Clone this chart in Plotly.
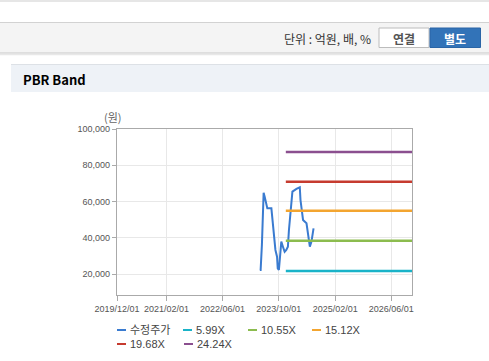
import plotly.graph_objects as go

# ---- data ----
price_dates = ["2023-04-20", "2023-04-27", "2023-05-08", "2023-05-17", "2023-05-23", "2023-06-01",
               "2023-06-15", "2023-06-24", "2023-07-29", "2023-08-03", "2023-08-12", "2023-09-02",
               "2023-09-16", "2023-09-22", "2023-10-02", "2023-10-09", "2023-10-23", "2023-11-06",
               "2023-11-21", "2023-12-05", "2023-12-19", "2023-12-28", "2024-01-09", "2024-01-18",
               "2024-01-27", "2024-03-02", "2024-03-31", "2024-04-06", "2024-04-28", "2024-05-28",
               "2024-06-11", "2024-06-26", "2024-07-10", "2024-07-28"]
price_values = [22400, 22400, 36200, 50800, 64900, 62700,
                58200, 56300, 56300, 53500, 46200, 33400,
                29700, 23300, 22400, 28000, 38000, 35200,
                32400, 33400, 35200, 44400, 53500, 60900,
                65500, 67000, 67900, 60900, 49900, 48100,
                42600, 35200, 38000, 45300]

band_names = ["5.99X", "10.55X", "15.12X", "19.68X", "24.24X"]
band_values = [21800, 38500, 55000, 71000, 87300]
band_dates = ["2023-12-01", "2026-11-27"]

price_name = "수정주가"
x_tickvals = ["2019-12-01", "2021-02-01", "2022-06-01", "2023-10-01", "2025-02-01", "2026-06-01"]
x_ticktext = ["2019/12/01", "2021/02/01", "2022/06/01", "2023/10/01", "2025/02/01", "2026/06/01"]
y_tickvals = [20000, 40000, 60000, 80000, 100000]

# ---- styles ----
price_color = "#3a7bd0"
band_colors = ["#1ab3c8", "#8cbc4f", "#f3a530", "#c63b2f", "#8b4f8f"]

W_PX, H_PX = 489, 361
L, R, T, B = 117, 412, 129, 295


def px(x):
    return (x - L) / (R - L)


def py(y):
    return (B - y) / (B - T)


fig = go.Figure()
fig.add_trace(go.Scatter(x=price_dates, y=price_values, mode="lines", name=price_name,
                         line=dict(color=price_color, width=2), showlegend=False))
for name, val, col in zip(band_names, band_values, band_colors):
    fig.add_trace(go.Scatter(x=band_dates, y=[val, val], mode="lines", name=name,
                             line=dict(color=col, width=2.5), showlegend=False))

shapes = []
annotations = []

# top border line
shapes.append(dict(type="line", xref="paper", yref="paper", x0=px(0), x1=px(489), y0=py(1), y1=py(1),
                   line=dict(color="#dedede", width=1.5), layer="below"))
# header bar
shapes.append(dict(type="rect", xref="paper", yref="paper", x0=px(0), x1=px(489), y0=py(22.5), y1=py(52.5),
                   fillcolor="#f4f4f4", line=dict(width=0), layer="below"))
shapes.append(dict(type="line", xref="paper", yref="paper", x0=px(0), x1=px(489), y0=py(22.5), y1=py(22.5),
                   line=dict(color="#d2d2d2", width=1), layer="below"))
shapes.append(dict(type="line", xref="paper", yref="paper", x0=px(0), x1=px(489), y0=py(53), y1=py(53),
                   line=dict(color="#c4c4c4", width=1.2), layer="below"))
shapes.append(dict(type="line", xref="paper", yref="paper", x0=px(0), x1=px(489), y0=py(54.5), y1=py(54.5),
                   line=dict(color="#e8e8e8", width=1.5), layer="below"))
# buttons
shapes.append(dict(type="rect", xref="paper", yref="paper", x0=px(379), x1=px(429), y0=py(47.5), y1=py(28),
                   fillcolor="#ffffff", line=dict(color="#bcbcbc", width=1), layer="below"))
shapes.append(dict(type="rect", xref="paper", yref="paper", x0=px(430), x1=px(480.5), y0=py(47.5), y1=py(28),
                   fillcolor="#3273b8", line=dict(color="#2a65a6", width=1), layer="below"))
# title bar
shapes.append(dict(type="rect", xref="paper", yref="paper", x0=px(11), x1=px(489), y0=py(92), y1=py(64.5),
                   fillcolor="#eef2f7", line=dict(width=0), layer="below"))
shapes.append(dict(type="line", xref="paper", yref="paper", x0=px(11), x1=px(489), y0=py(64.5), y1=py(64.5),
                   line=dict(color="#dde1e6", width=1), layer="below"))

annotations.append(dict(text="단위 : 억원, 배, %", xref="paper", yref="paper", x=px(373), y=py(38.5),
                        xanchor="right", yanchor="middle", showarrow=False,
                        font=dict(size=12, color="#333333", family="Noto Sans CJK KR")))
annotations.append(dict(text="<b>연결</b>", xref="paper", yref="paper", x=px(404), y=py(38),
                        xanchor="center", yanchor="middle", showarrow=False,
                        font=dict(size=12, color="#555555", family="Noto Sans CJK KR")))
annotations.append(dict(text="<b>별도</b>", xref="paper", yref="paper", x=px(455), y=py(38),
                        xanchor="center", yanchor="middle", showarrow=False,
                        font=dict(size=12, color="#ffffff", family="Noto Sans CJK KR")))
annotations.append(dict(text="<b>PBR Band</b>", xref="paper", yref="paper", x=px(21), y=py(79),
                        xanchor="left", yanchor="middle", showarrow=False,
                        font=dict(size=13, color="#000000", family="Noto Sans CJK KR")))
annotations.append(dict(text="(원)", xref="paper", yref="paper", x=px(113), y=py(117),
                        xanchor="center", yanchor="middle", showarrow=False,
                        font=dict(size=11, color="#666666", family="Noto Sans CJK KR")))

# custom legend
legend_items = [(price_name, price_color)] + list(zip(band_names, band_colors))
legend_pos = [(117, 330), (183, 330), (248, 330), (312, 330), (117, 344), (184, 344)]
for (name, col), (lx, ly) in zip(legend_items, legend_pos):
    shapes.append(dict(type="line", xref="paper", yref="paper", x0=px(lx), x1=px(lx + 9),
                       y0=py(ly), y1=py(ly), line=dict(color=col, width=2)))
    annotations.append(dict(text=name, xref="paper", yref="paper", x=px(lx + 11), y=py(ly),
                            xanchor="left", yanchor="middle", showarrow=False,
                            font=dict(size=11, color="#444444", family="Liberation Sans, Noto Sans CJK KR")))

fig.update_layout(
    width=W_PX, height=H_PX,
    margin=dict(l=L, r=W_PX - R, t=T, b=H_PX - B, pad=0),
    paper_bgcolor="#ffffff", plot_bgcolor="#ffffff",
    showlegend=False,
    shapes=shapes, annotations=annotations,
    font=dict(family="Liberation Sans, Arial", size=9, color="#555555"),
)
fig.update_xaxes(type="date", range=["2019-12-01", "2026-11-27"], tickvals=x_tickvals, ticktext=x_ticktext,
                 showgrid=True, gridcolor="#e8e8e8", gridwidth=1,
                 showline=True, linecolor="#aaaaaa", linewidth=1.2, mirror=True,
                 ticks="outside", ticklen=5, tickcolor="#aaaaaa",
                 tickfont=dict(size=9, color="#555555", family="Liberation Sans, Arial"), zeroline=False)
fig.update_yaxes(range=[8600, 100000], tickvals=y_tickvals, tickformat=",",
                 showgrid=True, gridcolor="#e8e8e8", gridwidth=1,
                 showline=True, linecolor="#aaaaaa", linewidth=1.2, mirror=True,
                 ticks="outside", ticklen=4, tickcolor="#aaaaaa",
                 tickfont=dict(size=9, color="#555555", family="Liberation Sans, Arial"), zeroline=False)

fig.write_html("out.html", config={"displayModeBar": False},
               post_script="document.body.style.margin='0';document.body.style.overflow='hidden';")
